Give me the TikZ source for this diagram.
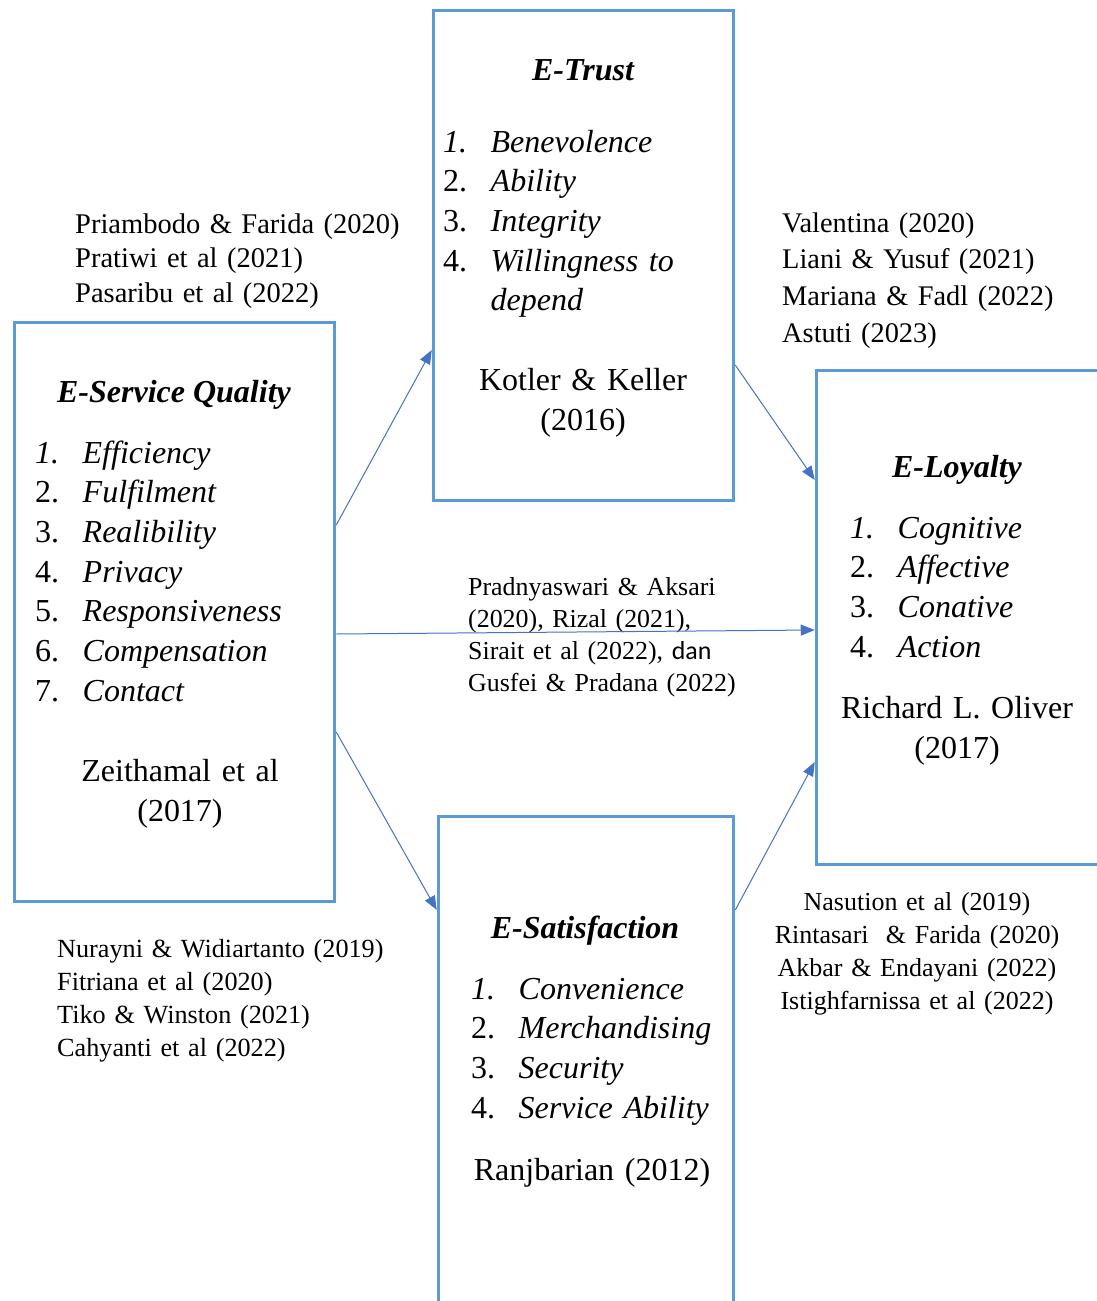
\documentclass[tikz,border=0pt]{standalone}
\usepackage{fontspec}
\setmainfont{Liberation Serif}
\newfontfamily\danfont{Carlito}
\usetikzlibrary{arrows.meta,positioning}
\definecolor{boxblue}{HTML}{5B9BD5}
\definecolor{linkblue}{HTML}{4472C4}
\newcommand{\nr}[1]{\makebox[47.5pt][l]{#1}}

\begin{document}
\begin{tikzpicture}[x=1pt, y=-1pt,
    box/.style={rectangle, draw=boxblue, line width=3.5pt, inner sep=0pt},
    title/.style={font=\fontsize{32}{40}\selectfont\bfseries\itshape, anchor=base, inner sep=0pt},
    items/.style={font=\fontsize{32}{39.7}\selectfont\itshape, anchor=base west, text width=300pt, align=left, inner sep=0pt},
    source/.style={font=\fontsize{32}{40}\selectfont, anchor=base, text width=300pt, align=center, inner sep=0pt},
    refs/.style={anchor=base west, text width=420pt, align=left, inner sep=0pt},
    link/.style={draw=linkblue, line width=1pt, -{Triangle[length=14pt,width=11pt]}}]
    \useasboundingbox (0,0) rectangle (1097,1301);
    \clip (0,0) rectangle (1097,1301);

    \node[box, minimum width=320pt, minimum height=579pt] (quality) at (174.5,612) {};
    \node[box, minimum width=300pt, minimum height=490pt] (trust) at (583.5,255.5) {};
    \node[box, minimum width=320pt, minimum height=494pt] (loyalty) at (976.5,617.5) {};
    \node[box, minimum width=295pt, minimum height=520pt] (satisfaction) at (586,1076.5) {};

    % E-Service Quality
    \node[title] (quality-title) at (174,402) {E-Service Quality};
    \node[items] (quality-items) at (35,463) {\nr{1.}Efficiency\\\nr{\upshape 2.}Fulfilment\\\nr{\upshape 3.}Realibility\\\nr{\upshape 4.}Privacy\\\nr{\upshape 5.}Responsiveness\\\nr{\upshape 6.}Compensation\\\nr{\upshape 7.}Contact};
    \node[source] (quality-src) at (180,781) {Zeithamal et al\\(2017)};

    % E-Trust
    \node[title] (trust-title) at (583,80) {E-Trust};
    \node[items] (trust-items) at (443,152) {\nr{1.}Benevolence\\\nr{\upshape 2.}Ability\\\nr{\upshape 3.}Integrity\\\nr{\upshape 4.}Willingness to\\\nr{}depend};
    \node[source] (trust-src) at (583,390) {Kotler \& Keller\\(2016)};

    % E-Loyalty
    \node[title] (loyalty-title) at (957,477) {E-Loyalty};
    \node[items] (loyalty-items) at (850,538) {\nr{1.}Cognitive\\\nr{\upshape 2.}Affective\\\nr{\upshape 3.}Conative\\\nr{\upshape 4.}Action};
    \node[source] (loyalty-src) at (957,718) {Richard L. Oliver\\(2017)};

    % E-Satisfaction
    \node[title] (satisfaction-title) at (585,938) {E-Satisfaction};
    \node[items] (satisfaction-items) at (471,999) {\nr{1.}Convenience\\\nr{\upshape 2.}Merchandising\\\nr{\upshape 3.}Security\\\nr{\upshape 4.}Service Ability};
    \node[source] (satisfaction-src) at (592,1180) {Ranjbarian (2012)};

    % references
    \node[refs, font=\fontsize{28.5}{34.5}\selectfont] (trust-refs) at (75,233) {Priambodo \& Farida (2020)\\Pratiwi et al (2021)\\Pasaribu et al (2022)};
    \node[refs, font=\fontsize{28.4}{36.7}\selectfont] (loyalty-refs) at (782,232) {Valentina (2020)\\Liani \& Yusuf (2021)\\Mariana \& Fadl (2022)\\Astuti (2023)};
    \node[refs, font=\fontsize{26.2}{33}\selectfont] (satisfaction-refs) at (57,957) {Nurayni \& Widiartanto (2019)\\Fitriana et al (2020)\\Tiko \& Winston (2021)\\Cahyanti et al (2022)};
    \node[refs, anchor=base, align=center, text width=320pt, font=\fontsize{26}{33}\selectfont] (sat-loyalty-refs) at (917,910) {Nasution et al (2019)\\Rintasari~ \& Farida (2020)\\Akbar \& Endayani (2022)\\Istighfarnissa et al (2022)};
    \node[refs, font=\fontsize{25.9}{32.3}\selectfont] (direct-refs) at (468,595) {Pradnyaswari \& Aksari\\(2020), Rizal (2021),\\Sirait et al (2022), {\danfont dan}\\Gusfei \& Pradana (2022)};

    \draw[link] ([yshift=87pt]quality.east) -- ([yshift=-94.5pt]trust.west);
    \draw[link] ([yshift=-22pt]quality.east) -- ([yshift=-12.5pt]loyalty.west);
    \draw[link] ([yshift=-120pt]quality.east) -- ([yshift=166.5pt]satisfaction.west);
    \draw[link] ([yshift=-109.5pt]trust.east) -- ([yshift=137.5pt]loyalty.west);
    \draw[link] ([yshift=166.5pt]satisfaction.east) -- ([yshift=-144.5pt]loyalty.west);
\end{tikzpicture}
\end{document}
